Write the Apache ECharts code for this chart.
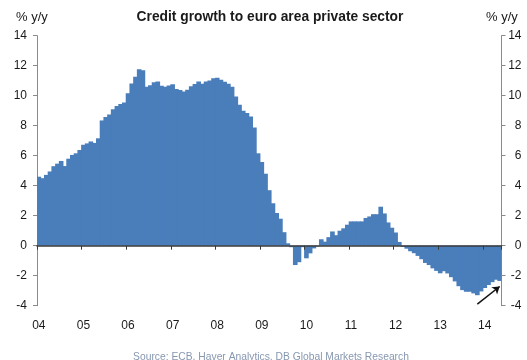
<!DOCTYPE html>
<html>
<head>
<meta charset="utf-8">
<style>
html,body{margin:0;padding:0;background:#fff;}
#chart{width:527px;height:360px;}
</style>
<script src="https://cdn.jsdelivr.net/npm/echarts@6/dist/echarts.min.js"></script>
</head>
<body>
<div id="chart"></div>
<script>
// Monthly credit growth (% y/y), Jan 2004 - May 2014
const years = ['2004','2005','2006','2007','2008','2009','2010','2011','2012','2013','2014'];
const months = ['01','02','03','04','05','06','07','08','09','10','11','12'];
const v2004 = [4.6, 4.5, 4.72, 4.95, 5.3, 5.47, 5.65, 5.31, 5.8, 6.05, 6.16, 6.38];
const v2005 = [6.73, 6.82, 6.95, 6.85, 7.16, 8.35, 8.58, 8.75, 9.1, 9.31, 9.45, 9.55];
const v2006 = [10.16, 10.82, 11.27, 11.76, 11.69, 10.6, 10.69, 10.9, 10.95, 10.67, 10.6, 10.68];
const v2007 = [10.76, 10.45, 10.38, 10.28, 10.4, 10.63, 10.78, 10.95, 10.8, 10.95, 11.02, 11.16];
const v2008 = [11.2, 11.07, 10.93, 10.79, 10.6, 9.95, 9.4, 8.99, 8.85, 8.62, 7.88, 6.16];
const v2009 = [5.58, 4.8, 3.7, 2.83, 2.18, 1.8, 0.9, 0.16, -0.1, -1.29, -1.1, -0.1];
const v2010 = [-0.84, -0.51, -0.18, -0.05, 0.43, 0.27, 0.57, 0.95, 0.7, 1.0, 1.16, 1.4];
const v2011 = [1.62, 1.62, 1.62, 1.62, 1.85, 1.95, 2.1, 2.1, 2.6, 2.15, 1.55, 1.2];
const v2012 = [0.88, 0.25, -0.08, -0.2, -0.37, -0.5, -0.68, -0.9, -1.15, -1.29, -1.51, -1.68];
const v2013 = [-1.84, -1.7, -1.85, -2.1, -2.38, -2.7, -2.96, -3.07, -3.07, -3.18, -3.3, -3.05];
const v2014 = [-2.82, -2.62, -2.43, -2.27, -2.35];
const yearLabels = ['04','05','06','07','08','09','10','11','12','13','14'];
// arrow annotation (category index, value)
const arrowFrom = [118, -3.9];
const arrowTo = [124, -2.72];

const values = [].concat(v2004, v2005, v2006, v2007, v2008, v2009, v2010, v2011, v2012, v2013, v2014);
const categories = [];
years.forEach(function (y) { months.forEach(function (m) { categories.push(y + '-' + m); }); });
categories.length = values.length;

const FONT = 'Liberation Sans, Arial, sans-serif';
const BAR = '#4a7ebb';
const chart = echarts.init(document.getElementById('chart'), null, {renderer: 'canvas'});
const yCommon = {
  type: 'value', min: -4, max: 14, interval: 2,
  splitLine: {show: false},
  axisLine: {show: true, lineStyle: {color: '#8a8a8a', width: 1}},
  axisTick: {show: true, length: 4, lineStyle: {color: '#8a8a8a'}}
};
chart.setOption({
  animation: false,
  backgroundColor: '#ffffff',
  grid: {left: 37, right: 25.5, top: 35.7, bottom: 54.3, containLabel: false},
  xAxis: [
    {
      type: 'category', data: categories, position: 'bottom', boundaryGap: true,
      axisLine: {show: true, onZero: true, lineStyle: {color: '#3a3a3a', width: 1.5}},
      axisTick: {show: true, length: 4, interval: function (i) { return i % 12 === 0; }, lineStyle: {color: '#3a3a3a'}},
      axisLabel: {show: false},
      z: 5
    },
    {
      type: 'category', data: categories, position: 'bottom', boundaryGap: true,
      axisLine: {show: false, onZero: false},
      axisTick: {show: false},
      axisLabel: {
        show: true, margin: 14, fontSize: 12, color: '#1a1a1a', fontFamily: FONT,
        interval: function (i) { return i % 12 === 0; },
        formatter: function (val, i) { return yearLabels[Math.floor(i / 12)]; }
      }
    }
  ],
  yAxis: [
    Object.assign({}, yCommon, {
      position: 'left',
      axisLabel: {margin: 10, fontSize: 12, color: '#1a1a1a', fontFamily: FONT}
    }),
    Object.assign({}, yCommon, {
      position: 'right',
      axisLabel: {
        margin: 6, fontSize: 12, color: '#1a1a1a', fontFamily: FONT,
        formatter: function (v) { return '{a|' + v + '}'; },
        rich: {a: {width: 14, align: 'right', fontSize: 12, color: '#1a1a1a', fontFamily: FONT}}
      }
    })
  ],
  series: [{
    type: 'bar',
    xAxisIndex: 0, yAxisIndex: 0,
    data: values,
    barWidth: '125%',
    itemStyle: {color: BAR},
    markLine: {
      silent: true,
      symbol: ['none', 'arrow'],
      symbolSize: 7,
      label: {show: false},
      lineStyle: {color: '#111111', width: 1.5, type: 'solid'},
      data: [[{coord: arrowFrom}, {coord: arrowTo}]]
    }
  }],
  graphic: [
    {type: 'text', style: {text: 'Credit growth to euro area private sector', x: 270, y: 17,
      textAlign: 'center', textVerticalAlign: 'middle', font: 'bold 13.8px ' + FONT, fill: '#1a1a1a'}},
    {type: 'text', style: {text: '% y/y', x: 16, y: 17, textAlign: 'left', textVerticalAlign: 'middle',
      font: '13px ' + FONT, fill: '#1a1a1a'}},
    {type: 'text', style: {text: '% y/y', x: 486, y: 17, textAlign: 'left', textVerticalAlign: 'middle',
      font: '13px ' + FONT, fill: '#1a1a1a'}},
    {type: 'text', style: {text: 'Source: ECB, Haver Analytics, DB Global Markets Research', x: 271, y: 357,
      textAlign: 'center', textVerticalAlign: 'middle', font: '10.3px ' + FONT, fill: '#8797b0'}}
  ]
});
</script>
</body>
</html>
